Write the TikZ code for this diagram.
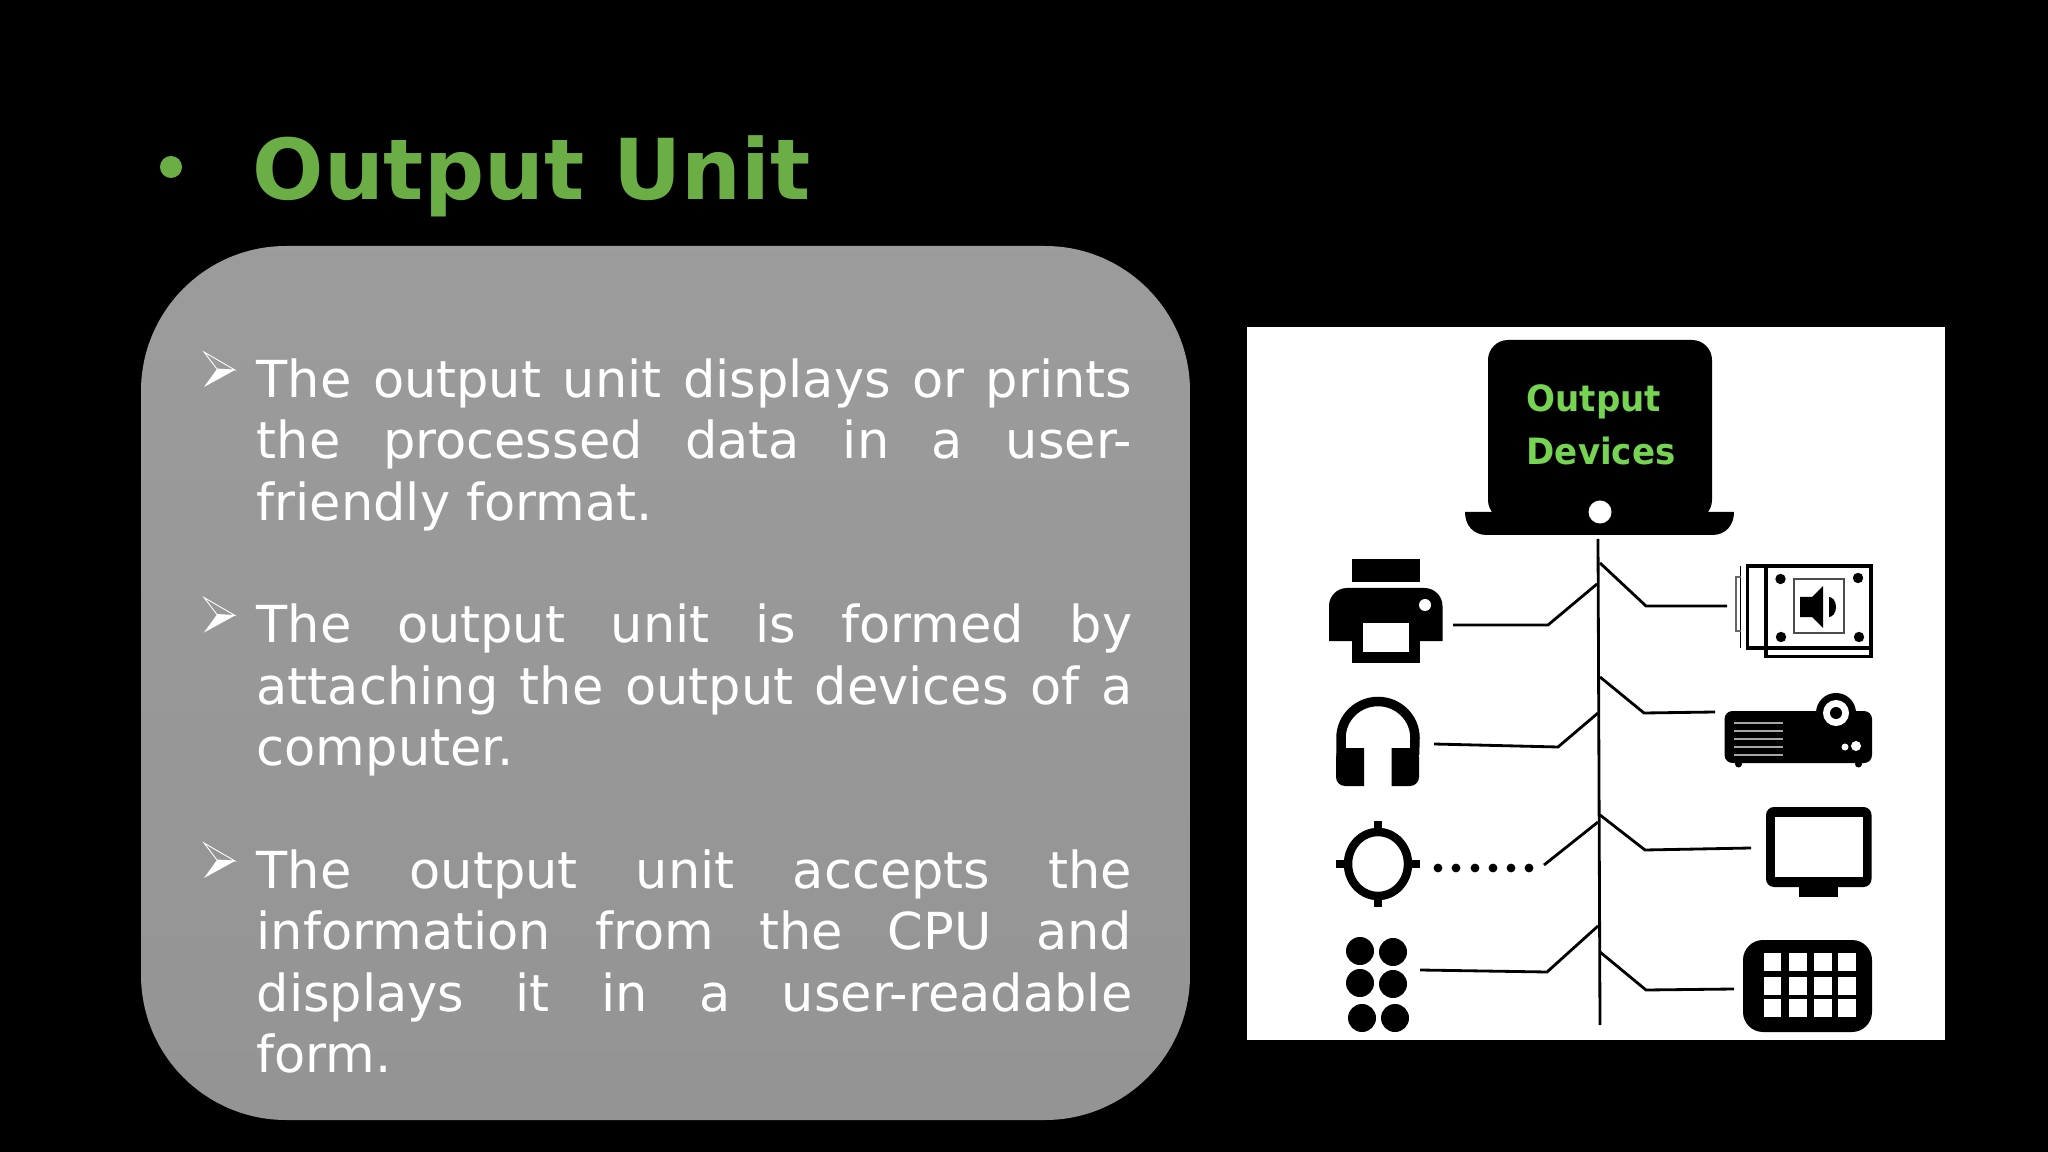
\documentclass[tikz,border=0pt]{standalone}
\usepackage{fontspec}
\setmainfont{DejaVu Sans}
\newfontfamily\devfont[FakeStretch=0.94]{DejaVu Sans}
\usepackage{xcolor}
\usetikzlibrary{positioning}
\usetikzlibrary{calc}
\definecolor{titlegreen}{RGB}{108,174,70}
\definecolor{devgreen}{RGB}{118,212,82}
\tolerance=9999
\tikzset{
  bodytext/.style={anchor=north west,inner sep=0pt,text=white,text width=8.75cm,align=justify,
    font=\fontsize{14.5}{17.47}\selectfont},
  branch/.style={line width=0.8pt},
  tipmark/.pic={
    \draw[white,line width=0.25pt] (0,0) -- (31,18) -- (13,17) -- cycle;
    \fill[white] (0,35) -- (31,18) -- (13,17) -- cycle;
  }
}
\begin{document}
\begin{tikzpicture}[x=0.01cm,y=-0.01cm]
\fill[black] (0,0) rectangle (2048,1152);
\useasboundingbox (0,0) rectangle (2048,1152);

% title
\node[circle,fill=titlegreen,inner sep=0pt,minimum size=0.22cm] (titledot) at (171,167) {};
\node[anchor=base west,inner sep=0pt,text=titlegreen,font=\fontsize{23.9}{29}\selectfont\bfseries] (title) at (252,200) {Output Unit};

% grey panel
\shade[top color=black!39,middle color=black!46,bottom color=black!42,rounded corners=1.45cm] (141,246) rectangle (1190,1120);

\pic at (204,352) {tipmark};
\pic at (204,597.5) {tipmark};
\pic at (204,843) {tipmark};
\node[bodytext] (para1) at (256,358) {The output unit displays or prints\linebreak the processed data in a user-\linebreak friendly format.};
\node[bodytext] (para2) at (256,603.5) {The output unit is formed by\linebreak attaching the output devices of a\linebreak computer.};
\node[bodytext] (para3) at (256,849) {The output unit accepts the\linebreak information from the CPU and\linebreak displays it in a user-readable\linebreak form.};

% white panel
\fill[white] (1247,327) rectangle (1945,1040);

% laptop
\fill[black,rounded corners=0.2cm] (1488,340) rectangle (1712,520);
\fill[black] (1465,512) -- (1734,512) .. controls (1734,525) and (1726,535) .. (1712,535) -- (1487,535) .. controls (1473,535) and (1465,525) .. (1465,512) -- cycle;
\fill[white] (1600,512) circle (0.115cm);
\node[anchor=north west,inner sep=0pt,align=left,text=devgreen,font=\devfont\fontsize{10.3}{15}\selectfont\bfseries] (devlabel) at (1526,384) {Output\\Devices};

% trunk and branches
\coordinate (trunktop) at (1598,539);
\coordinate (trunkbot) at (1600,1025);
\draw[branch] (trunktop) -- (trunkbot);

\coordinate (prntend) at (1453,625);
\coordinate (prntbend) at (1548,625);
\coordinate (prnttrunk) at (1597,584);
\draw[branch] (prntend) -- (prntbend) -- (prnttrunk);
\coordinate (headend) at (1434,744);
\coordinate (headbend) at (1558,747);
\coordinate (headtrunk) at (1598,713);
\draw[branch] (headend) -- (headbend) -- (headtrunk);
\coordinate (aimend) at (1544,865);
\coordinate (aimtrunk) at (1598,822);
\draw[branch] (aimend) -- (aimtrunk);
\coordinate (dotsend) at (1420,970);
\coordinate (dotsbend) at (1547,972);
\coordinate (dotstrunk) at (1598,926);
\draw[branch] (dotsend) -- (dotsbend) -- (dotstrunk);

\coordinate (spkrtrunk) at (1600,563);
\coordinate (spkrbend) at (1646,606);
\coordinate (spkrend) at (1727,606);
\draw[branch] (spkrtrunk) -- (spkrbend) -- (spkrend);
\coordinate (projtrunk) at (1600,677);
\coordinate (projbend) at (1644,713);
\coordinate (projend) at (1715,712);
\draw[branch] (projtrunk) -- (projbend) -- (projend);
\coordinate (montrunk) at (1600,815);
\coordinate (monbend) at (1645,850);
\coordinate (monend) at (1751,848);
\draw[branch] (montrunk) -- (monbend) -- (monend);
\coordinate (keystrunk) at (1600,952);
\coordinate (keysbend) at (1646,990);
\coordinate (keysend) at (1734,989);
\draw[branch] (keystrunk) -- (keysbend) -- (keysend);

% dots before the target
\foreach \px in {1438,1456,1475,1493,1511,1529}
  \fill[black] (\px,868) circle (0.044cm);

% printer
\fill[black] (1352,559) rectangle (1420,582);
\fill[black] (1329,641) [rounded corners=0.18cm] -- (1329,588) -- (1442.5,588) [sharp corners] -- (1442.5,641) -- cycle;
\fill[black] (1352,630) rectangle (1420,663);
\fill[white] (1363,623) rectangle (1408.5,652);
\fill[white] (1425,605) circle (0.06cm);

% headphones
\draw[black,line width=2.7pt] (1341,755) -- (1341,738) arc[start angle=180,end angle=360,x radius=37,y radius=36.5] -- (1414.5,755);
\fill[black] (1364,748) -- (1364,786) [rounded corners=0.09cm] -- (1336,786) -- (1336,748) [sharp corners] -- cycle;
\fill[black] (1391.5,748) -- (1391.5,786) [rounded corners=0.09cm] -- (1419,786) -- (1419,748) [sharp corners] -- cycle;

% target
\draw[black,line width=2.4pt] (1378,864) ellipse [x radius=30,y radius=32];
\fill[black] (1374,821) rectangle (1382,830);
\fill[black] (1374,897) rectangle (1382,907);
\fill[black] (1335.5,860) rectangle (1346,868);
\fill[black] (1410,860) rectangle (1420,868);

% six dots
\foreach \px/\py in {1360/951,1393/952,1360/983,1393/984,1362/1018,1395/1018}
  \fill[black] (\px,\py) circle (0.14cm);

% sound box
\draw[black,line width=0.9pt] (1747.5,566) rectangle (1871,648);
\draw[black,line width=0.9pt] (1766,566) -- (1766,656.5) -- (1871,656.5) -- (1871,648);
\draw[black,line width=0.4pt] (1740.5,566) -- (1740.5,648);
\draw[black!60,line width=0.4pt] (1740.5,577) -- (1736,577) -- (1736,631) -- (1740.5,631);
\foreach \px/\py in {1780.5/579,1858/578,1781/637,1859/637}
  \fill[black] (\px,\py) circle (0.052cm);
\draw[black!70,line width=0.5pt] (1794,579) rectangle (1844,633);
\fill[black] (1800,597) -- (1812,597) -- (1823,586) -- (1823,628) -- (1812,617) -- (1800,617) -- cycle;
\fill[black] (1829,597) arc[start angle=-90,end angle=90,x radius=7,y radius=10] -- cycle;

% projector
\fill[black,rounded corners=0.08cm] (1724.5,711) rectangle (1872,763);
\fill[black] (1738.5,764) circle (0.035cm);
\fill[black] (1858.5,764) circle (0.035cm);
\fill[black] (1836,713) circle (0.2cm);
\fill[white] (1836,713) circle (0.13cm);
\fill[black] (1836,713) circle (0.06cm);
\foreach \py in {723,731,739,747,755}
  \draw[black!35,line width=0.4pt] (1734,\py) -- (1783,\py);
\fill[white] (1845,747) circle (0.035cm);
\fill[white] (1856,746) circle (0.05cm);

% monitor
\fill[black] (1799,880) rectangle (1838,897);
\fill[black,rounded corners=0.08cm] (1766,807) rectangle (1871.5,887);
\fill[white] (1775,817) rectangle (1863,877);

% keypad
\fill[black,rounded corners=0.2cm] (1743,940) rectangle (1872,1032);
\foreach \px in {1763.5,1789,1814,1838}
  \foreach \py in {953,977,999}
    \fill[white] (\px,\py) rectangle ++(17.5,18);
\end{tikzpicture}
\end{document}
